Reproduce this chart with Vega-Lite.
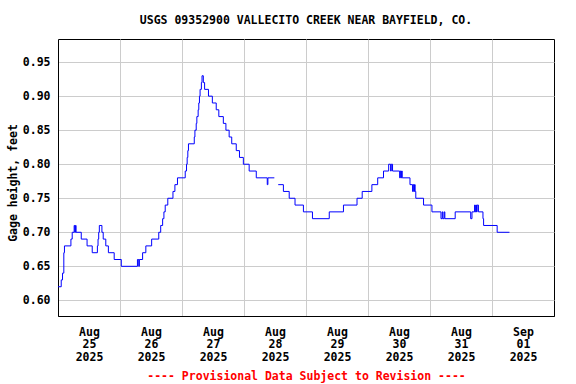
{
  "$schema": "https://vega.github.io/schema/vega-lite/v6.json",
  "width": 496,
  "height": 277,
  "autosize": {"type": "none"},
  "padding": {"left": 58, "top": 39, "right": 22, "bottom": 68},
  "background": "#ffffff",
  "config": {
    "font": "DejaVu Sans Mono",
    "view": {"stroke": "#000000", "strokeWidth": 1},
    "axis": {"labelFont": "DejaVu Sans Mono", "titleFont": "DejaVu Sans Mono", "labelFontWeight": "bold", "titleFontWeight": "bold", "labelFontSize": 11.5, "titleFontSize": 11.5, "labelColor": "#000000", "titleColor": "#000000", "gridColor": "#cccccc", "gridWidth": 1, "gridOpacity": 1, "domainColor": "#000000", "ticks": false}
  },
  "title": {"text": "USGS 09352900 VALLECITO CREEK NEAR BAYFIELD, CO.", "font": "DejaVu Sans Mono", "fontWeight": "bold", "fontSize": 11.5, "color": "#000000", "anchor": "middle", "frame": "group", "baseline": "alphabetic", "offset": 4},
  "data": {"values": [
    {"t":"2025-08-25T00:00","v":0.62},
    {"t":"2025-08-25T01:15","v":0.63},
    {"t":"2025-08-25T01:45","v":0.64},
    {"t":"2025-08-25T02:15","v":0.67},
    {"t":"2025-08-25T02:30","v":0.68},
    {"t":"2025-08-25T05:00","v":0.69},
    {"t":"2025-08-25T05:30","v":0.70},
    {"t":"2025-08-25T06:15","v":0.71},
    {"t":"2025-08-25T06:30","v":0.70},
    {"t":"2025-08-25T06:45","v":0.71},
    {"t":"2025-08-25T07:00","v":0.70},
    {"t":"2025-08-25T09:00","v":0.69},
    {"t":"2025-08-25T11:15","v":0.68},
    {"t":"2025-08-25T13:15","v":0.67},
    {"t":"2025-08-25T15:15","v":0.68},
    {"t":"2025-08-25T15:30","v":0.69},
    {"t":"2025-08-25T15:45","v":0.70},
    {"t":"2025-08-25T16:00","v":0.71},
    {"t":"2025-08-25T17:00","v":0.70},
    {"t":"2025-08-25T17:30","v":0.69},
    {"t":"2025-08-25T18:30","v":0.68},
    {"t":"2025-08-25T19:30","v":0.67},
    {"t":"2025-08-25T21:45","v":0.66},
    {"t":"2025-08-26T00:30","v":0.65},
    {"t":"2025-08-26T06:45","v":0.66},
    {"t":"2025-08-26T07:15","v":0.65},
    {"t":"2025-08-26T07:30","v":0.66},
    {"t":"2025-08-26T08:45","v":0.67},
    {"t":"2025-08-26T10:00","v":0.68},
    {"t":"2025-08-26T12:15","v":0.69},
    {"t":"2025-08-26T15:00","v":0.70},
    {"t":"2025-08-26T15:45","v":0.71},
    {"t":"2025-08-26T16:30","v":0.72},
    {"t":"2025-08-26T17:00","v":0.73},
    {"t":"2025-08-26T17:30","v":0.74},
    {"t":"2025-08-26T18:30","v":0.75},
    {"t":"2025-08-26T20:30","v":0.76},
    {"t":"2025-08-26T21:15","v":0.77},
    {"t":"2025-08-26T22:15","v":0.78},
    {"t":"2025-08-27T01:15","v":0.79},
    {"t":"2025-08-27T01:45","v":0.80},
    {"t":"2025-08-27T02:00","v":0.81},
    {"t":"2025-08-27T02:15","v":0.82},
    {"t":"2025-08-27T02:30","v":0.83},
    {"t":"2025-08-27T04:45","v":0.84},
    {"t":"2025-08-27T05:00","v":0.85},
    {"t":"2025-08-27T05:30","v":0.86},
    {"t":"2025-08-27T05:45","v":0.87},
    {"t":"2025-08-27T06:15","v":0.88},
    {"t":"2025-08-27T06:30","v":0.89},
    {"t":"2025-08-27T06:45","v":0.90},
    {"t":"2025-08-27T07:00","v":0.91},
    {"t":"2025-08-27T07:30","v":0.92},
    {"t":"2025-08-27T07:45","v":0.93},
    {"t":"2025-08-27T08:15","v":0.92},
    {"t":"2025-08-27T08:45","v":0.91},
    {"t":"2025-08-27T10:15","v":0.90},
    {"t":"2025-08-27T11:45","v":0.89},
    {"t":"2025-08-27T13:15","v":0.88},
    {"t":"2025-08-27T14:15","v":0.87},
    {"t":"2025-08-27T16:00","v":0.86},
    {"t":"2025-08-27T17:00","v":0.85},
    {"t":"2025-08-27T18:15","v":0.84},
    {"t":"2025-08-27T19:15","v":0.83},
    {"t":"2025-08-27T21:00","v":0.82},
    {"t":"2025-08-27T22:15","v":0.81},
    {"t":"2025-08-27T23:45","v":0.80},
    {"t":"2025-08-28T02:00","v":0.79},
    {"t":"2025-08-28T04:45","v":0.78},
    {"t":"2025-08-28T09:00","v":0.77},
    {"t":"2025-08-28T09:15","v":0.78},
    {"t":"2025-08-28T11:45","v":0.78},
    {"t":"2025-08-28T12:00","v":null},
    {"t":"2025-08-28T13:15","v":0.77},
    {"t":"2025-08-28T15:15","v":0.76},
    {"t":"2025-08-28T17:30","v":0.75},
    {"t":"2025-08-28T19:45","v":0.74},
    {"t":"2025-08-28T23:00","v":0.73},
    {"t":"2025-08-29T02:30","v":0.72},
    {"t":"2025-08-29T09:00","v":0.73},
    {"t":"2025-08-29T14:30","v":0.74},
    {"t":"2025-08-29T19:45","v":0.75},
    {"t":"2025-08-29T21:45","v":0.76},
    {"t":"2025-08-30T01:30","v":0.77},
    {"t":"2025-08-30T03:45","v":0.78},
    {"t":"2025-08-30T06:00","v":0.79},
    {"t":"2025-08-30T08:00","v":0.80},
    {"t":"2025-08-30T08:45","v":0.79},
    {"t":"2025-08-30T09:00","v":0.80},
    {"t":"2025-08-30T09:30","v":0.79},
    {"t":"2025-08-30T12:15","v":0.78},
    {"t":"2025-08-30T12:30","v":0.79},
    {"t":"2025-08-30T12:45","v":0.78},
    {"t":"2025-08-30T13:00","v":0.79},
    {"t":"2025-08-30T13:15","v":0.78},
    {"t":"2025-08-30T16:15","v":0.77},
    {"t":"2025-08-30T17:15","v":0.76},
    {"t":"2025-08-30T17:30","v":0.77},
    {"t":"2025-08-30T17:45","v":0.76},
    {"t":"2025-08-30T18:00","v":0.77},
    {"t":"2025-08-30T18:15","v":0.76},
    {"t":"2025-08-30T18:30","v":0.75},
    {"t":"2025-08-30T21:30","v":0.74},
    {"t":"2025-08-31T00:45","v":0.73},
    {"t":"2025-08-31T04:15","v":0.72},
    {"t":"2025-08-31T04:45","v":0.73},
    {"t":"2025-08-31T05:00","v":0.72},
    {"t":"2025-08-31T05:30","v":0.73},
    {"t":"2025-08-31T05:45","v":0.72},
    {"t":"2025-08-31T09:45","v":0.73},
    {"t":"2025-08-31T15:45","v":0.72},
    {"t":"2025-08-31T16:15","v":0.73},
    {"t":"2025-08-31T17:15","v":0.74},
    {"t":"2025-08-31T17:30","v":0.73},
    {"t":"2025-08-31T17:45","v":0.74},
    {"t":"2025-08-31T18:00","v":0.73},
    {"t":"2025-08-31T18:15","v":0.74},
    {"t":"2025-08-31T18:45","v":0.73},
    {"t":"2025-08-31T20:30","v":0.72},
    {"t":"2025-08-31T20:45","v":0.71},
    {"t":"2025-09-01T02:00","v":0.70},
    {"t":"2025-09-01T06:45","v":0.70}
  ]},
  "mark": {"type": "line", "interpolate": "step-after", "color": "#0000ff", "strokeWidth": 1, "invalid": "break-paths-filter-domains"},
  "encoding": {
    "x": {
      "field": "t", "type": "temporal",
      "scale": {"domain": [{"year": 2025, "month": 8, "date": 25}, {"year": 2025, "month": 9, "date": 2}]},
      "axis": {
        "values": [
          {"year": 2025, "month": 8, "date": 25},
          {"year": 2025, "month": 8, "date": 26},
          {"year": 2025, "month": 8, "date": 27},
          {"year": 2025, "month": 8, "date": 28},
          {"year": 2025, "month": 8, "date": 29},
          {"year": 2025, "month": 8, "date": 30},
          {"year": 2025, "month": 8, "date": 31},
          {"year": 2025, "month": 9, "date": 1}
        ],
        "grid": true,
        "domain": true,
        "labelExpr": "[timeFormat(datum.value, '%b'), timeFormat(datum.value, '%d'), timeFormat(datum.value, '%Y')]",
        "labelOffset": 31,
        "labelAlign": "center",
        "labelBaseline": "top",
        "labelPadding": 10,
        "labelLineHeight": 12.7,
        "labelOverlap": false,
        "labelBound": false,
        "labelFlush": false,
        "title": "---- Provisional Data Subject to Revision ----",
        "titleColor": "#ff0000",
        "titleBaseline": "alphabetic",
        "titleY": 63
      }
    },
    "y": {
      "field": "v", "type": "quantitative",
      "scale": {"domain": [0.577, 0.984], "nice": false, "zero": false},
      "axis": {
        "values": [0.60, 0.65, 0.70, 0.75, 0.80, 0.85, 0.90, 0.95],
        "format": ".2f",
        "grid": true,
        "domain": true,
        "labelPadding": 8,
        "title": "Gage height, feet",
        "titleAngle": 270,
        "titleBaseline": "alphabetic",
        "titleAlign": "center",
        "titleX": -42,
        "titleY": 143.5
      }
    }
  }
}
